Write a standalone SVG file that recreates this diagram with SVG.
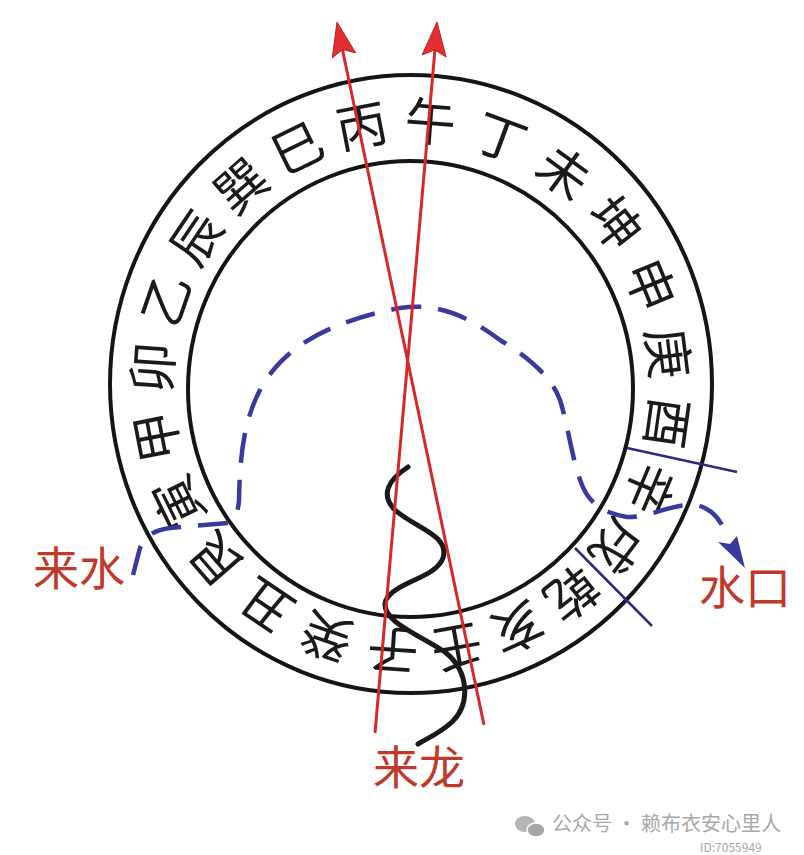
<svg xmlns="http://www.w3.org/2000/svg" width="804" height="855" viewBox="0 0 804 855">
<style>
.ring{fill:none;stroke:#151515;stroke-width:4}
.mt{font-family:"Noto Sans CJK SC","Noto Sans CJK TC",sans-serif;font-size:51px;fill:#1a1a1a;text-anchor:middle;dominant-baseline:central}
.lbl{font-family:"Noto Sans CJK SC","Noto Sans CJK TC",sans-serif;font-size:46px;fill:#c0392b}
.red{stroke:#d62828;stroke-width:3;fill:none}
.redhead{fill:#e03030;stroke:#c02020;stroke-width:1}
.div{stroke:#2b2b80;stroke-width:2.5}
.flow{fill:none;stroke:#3a3a9e;stroke-width:4.5;stroke-dasharray:30 17}
.wm{font-family:"Noto Sans CJK SC",sans-serif;fill:#a8a8a8}
</style>
<rect width="804" height="855" fill="#ffffff"/>
<g id="compass">
<ellipse class="ring" cx="411" cy="384" rx="301" ry="309"/>
<ellipse class="ring" cx="410.5" cy="389" rx="222.5" ry="228"/>
</g>
<g id="mountains">
<text class="mt" transform="translate(430.6,118.7) rotate(4.3)">午</text>
<text class="mt" transform="translate(501.9,134.6) rotate(20.3)">丁</text>
<text class="mt" transform="translate(565.7,169.7) rotate(36.2)">未</text>
<text class="mt" transform="translate(617.5,221.0) rotate(52.0)">坤</text>
<text class="mt" transform="translate(653.2,283.9) rotate(67.6)">申</text>
<text class="mt" transform="translate(671.0,352.9) rotate(82.9)">庚</text>
<text class="mt" transform="translate(670.5,423.3) rotate(98.0)">酉</text>
<text class="mt" transform="translate(652.5,489.9) rotate(112.8)">辛</text>
<text class="mt" transform="translate(619.3,548.4) rotate(127.3)">戌</text>
<text class="mt" transform="translate(573.7,596.0) rotate(141.6)">乾</text>
<text class="mt" transform="translate(518.4,630.4) rotate(155.8)">亥</text>
<text class="mt" transform="translate(457.4,649.8) rotate(169.8)">壬</text>
<text class="mt" transform="translate(392.7,653.4) rotate(184)">子</text>
<text class="mt" transform="translate(325.7,639.4) rotate(199)">癸</text>
<text class="mt" transform="translate(264.5,608.2) rotate(214)">丑</text>
<text class="mt" transform="translate(213.3,561.8) rotate(229)">艮</text>
<text class="mt" transform="translate(175.5,503.5) rotate(244)">寅</text>
<text class="mt" transform="translate(153.8,437.1) rotate(259)">甲</text>
<text class="mt" transform="translate(149.6,367.3) rotate(274)">卯</text>
<text class="mt" transform="translate(163.3,298.7) rotate(289)">乙</text>
<text class="mt" transform="translate(193.8,236.1) rotate(304)">辰</text>
<text class="mt" transform="translate(239.1,183.7) rotate(319)">巽</text>
<text class="mt" transform="translate(296.1,145.1) rotate(334)">巳</text>
<text class="mt" transform="translate(361.0,122.9) rotate(349)">丙</text>
</g>
<g id="connectors">
<line class="div" x1="627" y1="448" x2="737" y2="472"/>
<line class="div" x1="575" y1="548" x2="652" y2="626"/>
<path class="flow" d="M133,575 L140,548 Q146,531 170,528 L228,523 Q238,518 239,500 C240,440 248,400 275,368 C300,338 345,318 400,308 C440,302 470,318 500,340 C530,358 552,378 560,400 C568,425 572,460 582,485 C590,505 605,513 627,517 C650,518 672,503 695,505 C712,507 722,522 727,536"/>
<polygon fill="#3a3a9e" points="745,568 737,536 730,544 718,542"/>
<path d="M408,467 C388,480 380,495 395,510 C415,528 450,535 443,558 C436,578 395,582 386,600 C378,620 420,635 445,652 C470,672 470,705 452,722 C440,733 428,738 418,744" fill="none" stroke="#1a1a1a" stroke-width="5" stroke-linecap="round"/>
<line class="red" x1="340" y1="38" x2="484" y2="725"/>
<line class="red" x1="436" y1="38" x2="375" y2="733"/>
<polygon class="redhead" points="337,22 355.7,52.9 342.7,49.4 332.3,57.8"/>
<polygon class="redhead" points="437,22 446,56.9 434.6,49.9 422.1,54.9"/>
</g>
<g id="label-laishui"><text class="lbl" x="33" y="585">来水</text></g>
<g id="label-shuikou"><text class="lbl" x="699" y="604">水口</text></g>
<g id="label-lailong"><text class="lbl" x="373" y="784">来龙</text></g>
<g id="watermark">
<ellipse cx="525" cy="824" rx="10" ry="8" fill="#b5b5b5"/>
<ellipse cx="536" cy="830" rx="9" ry="7" fill="#a5a5a5" stroke="#fff" stroke-width="1.5"/>
<text class="wm" x="552" y="831" font-size="20">公众号 · 赖布衣安心里人</text>
<text class="wm" x="700" y="852" font-size="12">ID:7055949</text>
</g>
</svg>
